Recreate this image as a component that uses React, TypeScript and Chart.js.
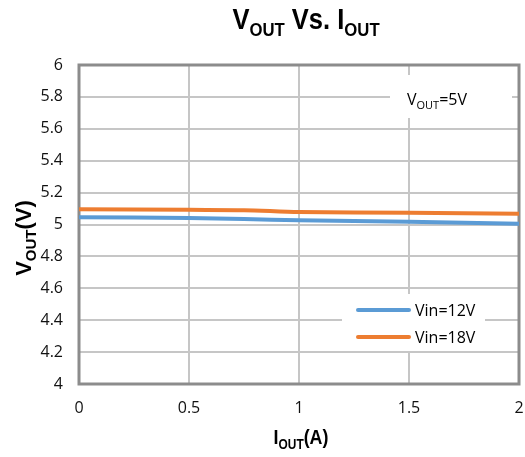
import React, { useEffect, useRef } from 'react';
import { Chart, registerables } from 'chart.js';

Chart.register(...registerables);

// ---- data ----
const ioutA = [0, 0.5, 0.75, 1, 1.5, 2];
const vin12 = [5.045, 5.041, 5.034, 5.027, 5.018, 5.005];
const vin18 = [5.096, 5.092, 5.09, 5.078, 5.074, 5.068];
const seriesLabels = ['Vin=12V', 'Vin=18V'];
const seriesColors = ['#5b9bd5', '#ed7d31'];
const xTicks = [0, 0.5, 1, 1.5, 2];
const yTicks = [4, 4.2, 4.4, 4.6, 4.8, 5, 5.2, 5.4, 5.6, 5.8, 6];
const xTickLabels = ['0', '0.5', '1', '1.5', '2'];
const yTickLabels = ['4', '4.2', '4.4', '4.6', '4.8', '5', '5.2', '5.4', '5.6', '5.8', '6'];

type Run = { t: string; sub?: boolean };

const TITLE_FAMILY = '"Liberation Sans", Arial, sans-serif';
const BODY_FAMILY = '"Open Sans", "Noto Sans", sans-serif';

function runsWidth(ctx: CanvasRenderingContext2D, runs: Run[], size: number, subSize: number, weight: string, family: string) {
  let w = 0;
  for (const r of runs) {
    ctx.font = `${weight} ${r.sub ? subSize : size}px ${family}`;
    w += ctx.measureText(r.t).width;
  }
  return w;
}

function drawRich(
  ctx: CanvasRenderingContext2D,
  runs: Run[],
  x: number,
  y: number,
  o: { size: number; subSize: number; subDy: number; weight: string; family: string; align: 'center' | 'left'; color: string; sx?: number }
) {
  const sx = o.sx ?? 1;
  const total = runsWidth(ctx, runs, o.size, o.subSize, o.weight, o.family) * sx;
  const start = o.align === 'center' ? x - total / 2 : x;
  ctx.save();
  ctx.translate(start, y);
  ctx.scale(sx, 1);
  ctx.fillStyle = o.color;
  ctx.textBaseline = 'alphabetic';
  ctx.textAlign = 'left';
  let cx = 0;
  for (const r of runs) {
    ctx.font = `${o.weight} ${r.sub ? o.subSize : o.size}px ${o.family}`;
    ctx.fillText(r.t, cx, r.sub ? o.subDy : 0);
    cx += ctx.measureText(r.t).width;
  }
  ctx.restore();
}

const deco = {
  id: 'deco',
  beforeDatasetsDraw(chart: any) {
    const ctx: CanvasRenderingContext2D = chart.ctx;
    const { left, right, top, bottom } = chart.chartArea;
    ctx.save();
    // white boxes behind annotation and legend
    ctx.fillStyle = '#ffffff';
    ctx.fillRect(390, 75, 122, 43);
    ctx.fillRect(342, 294, 143, 57);
    // plot frame
    ctx.strokeStyle = '#8c8c8c';
    ctx.lineWidth = 3;
    ctx.strokeRect(left, top, right - left, bottom - top);
    ctx.restore();
  },
  afterDraw(chart: any) {
    const ctx: CanvasRenderingContext2D = chart.ctx;
    ctx.save();
    // chart title
    drawRich(ctx, [{ t: 'V' }, { t: 'OUT', sub: true }, { t: ' Vs. I' }, { t: 'OUT', sub: true }], 306, 29, {
      size: 29, subSize: 19, subDy: 7, weight: 'bold', family: TITLE_FAMILY, align: 'center', color: '#000', sx: 0.88,
    });
    // x axis title
    drawRich(ctx, [{ t: 'I' }, { t: 'OUT', sub: true }, { t: '(A)' }], 301, 444, {
      size: 21, subSize: 14, subDy: 5, weight: 'bold', family: TITLE_FAMILY, align: 'center', color: '#000', sx: 0.85,
    });
    // y axis title (rotated)
    ctx.save();
    ctx.translate(31, 238);
    ctx.rotate(-Math.PI / 2);
    drawRich(ctx, [{ t: 'V' }, { t: 'OUT', sub: true }, { t: '(V)' }], 0, 0, {
      size: 22, subSize: 15, subDy: 5, weight: 'bold', family: TITLE_FAMILY, align: 'center', color: '#000', sx: 1,
    });
    ctx.restore();
    // annotation
    drawRich(ctx, [{ t: 'V' }, { t: 'OUT', sub: true }, { t: '=5V' }], 407, 105, {
      size: 16, subSize: 11, subDy: 4, weight: 'normal', family: BODY_FAMILY, align: 'left', color: '#000',
    });
    // legend
    const rowsY = [310, 337];
    chart.data.datasets.forEach((ds: any, i: number) => {
      ctx.strokeStyle = ds.borderColor;
      ctx.lineWidth = 4;
      ctx.lineCap = 'round';
      ctx.beginPath();
      ctx.moveTo(358, rowsY[i]);
      ctx.lineTo(409, rowsY[i]);
      ctx.stroke();
      ctx.fillStyle = '#000';
      ctx.font = `16px ${BODY_FAMILY}`;
      ctx.textAlign = 'left';
      ctx.textBaseline = 'middle';
      ctx.fillText(ds.label, 415, rowsY[i] + 1);
    });
    ctx.restore();
  },
};

export default function App() {
  const ref = useRef<HTMLCanvasElement | null>(null);
  useEffect(() => {
    if (!ref.current) return;
    const series = [vin12, vin18];
    const chart = new Chart(ref.current, {
      type: 'line',
      data: {
        datasets: series.map((vals, i) => ({
          label: seriesLabels[i],
          data: ioutA.map((x, j) => ({ x, y: vals[j] })),
          borderColor: seriesColors[i],
          backgroundColor: seriesColors[i],
          borderWidth: 4,
          pointRadius: 0,
          tension: 0.3,
          fill: false,
          borderCapStyle: 'round',
        })),
      },
      options: {
        responsive: false,
        devicePixelRatio: 1,
        animation: false,
        layout: { padding: { left: 0, top: 65, right: 6, bottom: 0 } },
        plugins: { legend: { display: false }, title: { display: false }, tooltip: { enabled: false } },
        scales: {
          x: {
            type: 'linear',
            min: 0,
            max: 2,
            afterFit: (s: any) => {
              s.height = 73;
              s.paddingLeft = 0;
              s.paddingRight = 0;
            },
            afterBuildTicks: (s: any) => { s.ticks = xTicks.map((v) => ({ value: v })); },
            ticks: {
              padding: 15,
              color: '#111',
              font: { family: BODY_FAMILY, size: 16 },
              callback: (v: any) => xTickLabels[xTicks.indexOf(Number(v))] ?? '',
              maxRotation: 0,
            },
            grid: { color: '#c6c6c6', lineWidth: 2, drawTicks: false },
            border: { display: false },
          },
          y: {
            type: 'linear',
            min: 4,
            max: 6,
            afterFit: (s: any) => {
              s.width = 79;
              s.paddingTop = 0;
              s.paddingBottom = 0;
            },
            afterBuildTicks: (s: any) => { s.ticks = yTicks.map((v) => ({ value: v })); },
            ticks: {
              padding: 16,
              color: '#111',
              font: { family: BODY_FAMILY, size: 16 },
              callback: (v: any) => {
                const k = yTicks.findIndex((t) => Math.abs(t - Number(v)) < 1e-6);
                return k >= 0 ? yTickLabels[k] : '';
              },
            },
            grid: { color: '#c6c6c6', lineWidth: 2, drawTicks: false },
            border: { display: false },
          },
        },
      },
      plugins: [deco],
    } as any);
    return () => chart.destroy();
  }, []);
  return (
    <div style={{ position: 'fixed', left: 0, top: 0, width: 525, height: 457, background: '#fff' }}>
      <canvas ref={ref} width={525} height={457} style={{ display: 'block', width: 525, height: 457 }} />
    </div>
  );
}
